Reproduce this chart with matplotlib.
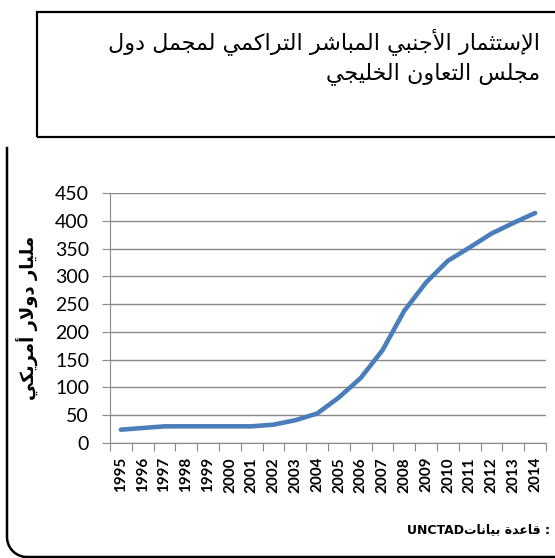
import numpy as np
import matplotlib.pyplot as plt
from matplotlib.lines import Line2D
from matplotlib.patches import Rectangle

# data (billion US$)
years = [str(y) for y in range(1995, 2015)]
fdi_stock = [24, 27, 30, 30, 30, 30, 30, 33, 41, 53,
             82, 117, 167, 238, 289, 328, 352, 377, 396, 414]
yticks = [0, 50, 100, 150, 200, 250, 300, 350, 400, 450]

title_lines = ["الإستثمار الأجنبي المباشر التراكمي لمجمل دول",
               "مجلس التعاون الخليجي"]
ylabel = "مليار دولار أمريكي"
source_ar = "قاعدة بيانات"
source_lat = "UNCTAD"

# matplotlib does no arabic shaping, so do it by hand with presentation forms
# letter: (isolated, final, initial, medial); 2-tuples only join to the right
FORMS = {
    'ا': (0xFE8D, 0xFE8E), 'أ': (0xFE83, 0xFE84), 'إ': (0xFE87, 0xFE88),
    'ب': (0xFE8F, 0xFE90, 0xFE91, 0xFE92), 'ة': (0xFE93, 0xFE94),
    'ت': (0xFE95, 0xFE96, 0xFE97, 0xFE98), 'ث': (0xFE99, 0xFE9A, 0xFE9B, 0xFE9C),
    'ج': (0xFE9D, 0xFE9E, 0xFE9F, 0xFEA0), 'خ': (0xFEA5, 0xFEA6, 0xFEA7, 0xFEA8),
    'د': (0xFEA9, 0xFEAA), 'ر': (0xFEAD, 0xFEAE),
    'س': (0xFEB1, 0xFEB2, 0xFEB3, 0xFEB4), 'ش': (0xFEB5, 0xFEB6, 0xFEB7, 0xFEB8),
    'ع': (0xFEC9, 0xFECA, 0xFECB, 0xFECC), 'ق': (0xFED5, 0xFED6, 0xFED7, 0xFED8),
    'ك': (0xFED9, 0xFEDA, 0xFEDB, 0xFEDC), 'ل': (0xFEDD, 0xFEDE, 0xFEDF, 0xFEE0),
    'م': (0xFEE1, 0xFEE2, 0xFEE3, 0xFEE4), 'ن': (0xFEE5, 0xFEE6, 0xFEE7, 0xFEE8),
    'و': (0xFEED, 0xFEEE), 'ي': (0xFEF1, 0xFEF2, 0xFEF3, 0xFEF4),
}
LAMALEF = {'ا': (0xFEFB, 0xFEFC), 'أ': (0xFEF7, 0xFEF8), 'إ': (0xFEF9, 0xFEFA)}


def shape(text):
    # merge lam+alef first
    chars = []
    i = 0
    while i < len(text):
        if text[i] == 'ل' and i + 1 < len(text) and text[i + 1] in LAMALEF:
            chars.append(('LA', text[i + 1]))
            i += 2
        else:
            chars.append((text[i], None))
            i += 1

    def dual(c):
        return c[0] in FORMS and len(FORMS[c[0]]) == 4

    def joins(c):
        return c[0] == 'LA' or c[0] in FORMS

    out = []
    for k, c in enumerate(chars):
        prev = chars[k - 1] if k > 0 else None
        nxt = chars[k + 1] if k + 1 < len(chars) else None
        to_prev = prev is not None and dual(prev) and joins(c)
        if c[0] == 'LA':
            f = LAMALEF[c[1]]
            out.append(chr(f[1] if to_prev else f[0]))
            continue
        if c[0] not in FORMS:
            out.append(c[0])
            continue
        f = FORMS[c[0]]
        to_next = len(f) == 4 and nxt is not None and joins(nxt)
        if to_prev and to_next:
            out.append(chr(f[3]))
        elif to_prev:
            out.append(chr(f[1]))
        elif to_next:
            out.append(chr(f[2]))
        else:
            out.append(chr(f[0]))
    return ''.join(out)[::-1]   # visual order, right to left


W, H = 555, 558
fig = plt.figure(figsize=(W / 100, H / 100), dpi=100)

# title box (runs past the right edge)
fig.patches.append(Rectangle((37 / W, 1 - 137 / H), 560 / W, 125 / H,
                             transform=fig.transFigure, fill=False,
                             edgecolor='black', linewidth=1.6))
fig.text(540 / W, 1 - 42 / H, shape(title_lines[0]), ha='right', va='center',
         fontsize=16, family='DejaVu Sans')
fig.text(540 / W, 1 - 74 / H, shape(title_lines[1]), ha='right', va='center',
         fontsize=16, family='DejaVu Sans')

# outer chart frame: left side + rounded bottom-left corner + bottom
r = 20
t = np.linspace(np.pi, 1.5 * np.pi, 20)
fx = np.concatenate([[7], 7 + r + r * np.cos(t), [W + 5]])
fy = np.concatenate([[148], 557 - r - r * np.sin(t), [557]])
fig.lines.append(Line2D(fx / W, 1 - fy / H, transform=fig.transFigure,
                        color='black', linewidth=1.8))

ax = fig.add_axes([110 / W, 115 / H, 436 / W, 250 / H])
x = np.arange(len(years))
ax.plot(x, fdi_stock, color='#4A7EBB', linewidth=3.3, solid_capstyle='round',
        solid_joinstyle='round')

ax.set_xlim(-0.5, len(years) - 0.5)
ax.set_ylim(0, 450)
ax.set_yticks(yticks)
ax.set_yticklabels([str(v) for v in yticks], fontsize=14, family='Lato')
ax.set_xticks(np.arange(-0.5, len(years), 1.0))
ax.set_xticklabels([])
ax.set_xticks(x, minor=True)
ax.set_xticklabels(years, minor=True, rotation=90, fontsize=11,
                   family='Lato', fontweight='bold')
ax.tick_params(axis='x', which='minor', length=0, pad=10)
ax.tick_params(axis='x', which='major', length=6, color='#898989')
ax.tick_params(axis='y', length=6, color='#898989', pad=9)
ax.grid(axis='y', color='#898989', linewidth=1)
ax.set_axisbelow(True)
for s in ['top', 'right']:
    ax.spines[s].set_visible(False)
for s in ['left', 'bottom']:
    ax.spines[s].set_color('#898989')

fig.text(28 / W, 1 - 318 / H, shape(ylabel), rotation=90, ha='center',
         va='center', fontsize=13, fontweight='bold', family='DejaVu Sans')

# source line at the bottom right
fig.text(550 / W, 1 - 530 / H, source_lat + shape(': ' + source_ar),
         ha='right', va='center', fontsize=9, fontweight='bold',
         family='DejaVu Sans')

fig.savefig('out.png', dpi=100)
